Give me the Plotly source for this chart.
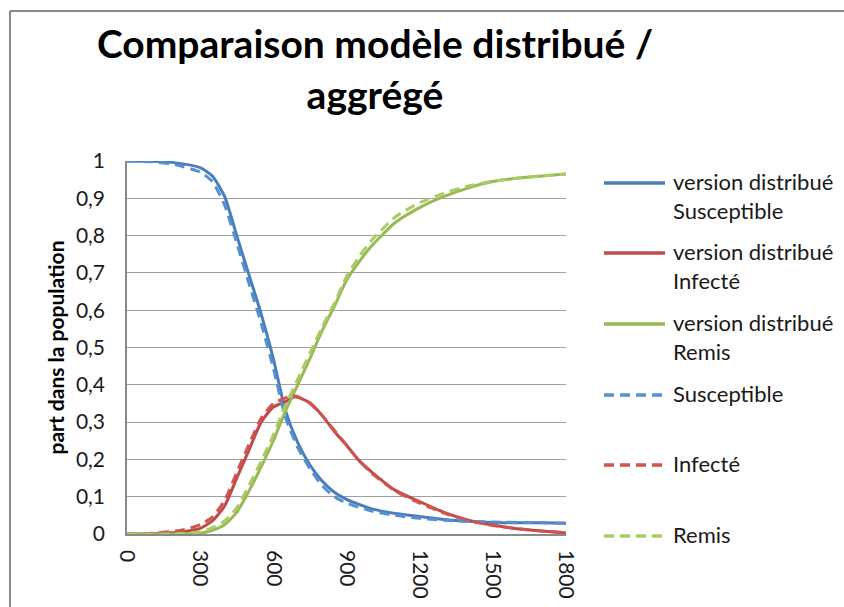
import plotly.graph_objects as go

# --- data ---------------------------------------------------------------
# Distributed model (solid lines)
x_s = [0, 100, 200, 300, 350, 400, 450, 500, 550, 600, 650, 700,
       750, 800, 850, 900, 1000, 1100, 1200, 1300, 1400, 1500, 1600, 1700, 1800]
s_dist = [1.0, 0.999, 0.995, 0.982, 0.96, 0.905, 0.80, 0.695, 0.59, 0.47, 0.33,
          0.245, 0.185, 0.142, 0.112, 0.093, 0.068, 0.055, 0.047, 0.039, 0.034,
          0.031, 0.03, 0.03, 0.029]

x_i = [0, 100, 200, 250, 300, 350, 400, 450, 500, 550, 600, 650, 690, 750, 800,
       850, 900, 950, 1000, 1100, 1200, 1300, 1400, 1500, 1600, 1700, 1800]
i_dist = [0.0, 0.001, 0.004, 0.008, 0.015, 0.035, 0.075, 0.15, 0.225, 0.30, 0.34,
          0.355, 0.368, 0.352, 0.318, 0.275, 0.238, 0.198, 0.168, 0.117, 0.087,
          0.058, 0.037, 0.024, 0.014, 0.008, 0.003]

x_r = [0, 100, 200, 300, 350, 400, 450, 500, 550, 600, 650, 700, 750, 800, 850,
       900, 950, 1000, 1100, 1200, 1300, 1400, 1500, 1600, 1700, 1800]
r_dist = [0.0, 0.0, 0.0, 0.002, 0.01, 0.025, 0.058, 0.115, 0.18, 0.25, 0.33, 0.40,
          0.47, 0.545, 0.61, 0.68, 0.728, 0.77, 0.835, 0.875, 0.905, 0.928, 0.945,
          0.954, 0.96, 0.965]

# Aggregated model (dashed lines)
s_agg = [1.0, 0.998, 0.99, 0.97, 0.945, 0.882, 0.78, 0.672, 0.565, 0.445, 0.312,
         0.232, 0.175, 0.13, 0.10, 0.083, 0.062, 0.05, 0.042, 0.037, 0.034,
         0.032, 0.031, 0.03, 0.029]
i_agg = [0.0, 0.002, 0.008, 0.014, 0.025, 0.045, 0.09, 0.165, 0.24, 0.31, 0.35,
         0.365, 0.37, 0.35, 0.318, 0.278, 0.238, 0.198, 0.165, 0.115, 0.083, 0.056,
         0.036, 0.023, 0.014, 0.008, 0.004]
r_agg = [0.0, 0.0, 0.001, 0.006, 0.017, 0.035, 0.07, 0.13, 0.195, 0.265, 0.345,
         0.415, 0.485, 0.555, 0.618, 0.69, 0.742, 0.785, 0.85, 0.888, 0.914, 0.933,
         0.946, 0.954, 0.96, 0.965]

x_ticks = [0, 300, 600, 900, 1200, 1500, 1800]
y_ticks = [0, 0.1, 0.2, 0.3, 0.4, 0.5, 0.6, 0.7, 0.8, 0.9, 1.0]

series = [
    ("version distribué<br>Susceptible", x_s, s_dist, "#4A7EBB", "solid"),
    ("version distribué<br>Infecté", x_i, i_dist, "#BE4B48", "solid"),
    ("version distribué<br>Remis", x_r, r_dist, "#98B954", "solid"),
    ("Susceptible", x_s, s_agg, "#5590D0", "10px,6px"),
    ("Infecté", x_i, i_agg, "#D25450", "10px,6px"),
    ("Remis", x_r, r_agg, "#A9CC64", "10px,6px"),
]

FONT = "Lato"

fig = go.Figure()
for name, xs, ys, color, dash in series:
    fig.add_trace(go.Scatter(
        x=xs, y=ys, mode="lines", name=name.replace("<br>", " "),
        line=dict(color=color, width=3, dash=dash, shape="spline", smoothing=0.6),
        showlegend=False,
    ))

# plot-area geometry in pixels
W, H = 844, 607
L, R, T, B = 127, 278, 161, 73
pw, ph = W - L - R, H - T - B


def px_x(p):
    return (p - L) / pw


def px_y(p):
    return (H - B - p) / ph


# legend drawn alongside the plot
shapes = []
annotations = []
legend_rows = [183, 253, 324, 395, 465, 536]
for (name, _, _, color, dash), yrow in zip(series, legend_rows):
    shapes.append(dict(
        type="line", xref="paper", yref="paper",
        x0=px_x(604), x1=px_x(665), y0=px_y(yrow), y1=px_y(yrow),
        line=dict(color=color, width=3.5, dash=dash),
    ))
    annotations.append(dict(
        text=name, xref="paper", yref="paper",
        x=px_x(671), y=px_y(yrow - 17), xanchor="left", yanchor="top",
        align="left", showarrow=False,
        font=dict(family=FONT, size=22, color="#1a1a1a"),
    ))

# chart frame (top and left edges)
frame = dict(color="#8a8a8a", width=2)
shapes.append(dict(type="line", xref="paper", yref="paper", layer="below",
                   x0=px_x(10), x1=px_x(W + 40), y0=px_y(11), y1=px_y(11), line=frame))
shapes.append(dict(type="line", xref="paper", yref="paper", layer="below",
                   x0=px_x(10), x1=px_x(10), y0=px_y(11), y1=px_y(H + 40), line=frame))

fig.update_layout(
    width=W, height=H,
    margin=dict(l=L, r=R, t=T, b=B),
    paper_bgcolor="white", plot_bgcolor="white",
    separators=", ",
    title=dict(
        text="Comparaison modèle distribué /<br>aggrégé",
        x=px_x(375), xanchor="center", xref="paper",
        y=1 - 58 / H, yanchor="top",
        font=dict(family=FONT, size=39, color="#000000", weight="bold"),
    ),
    xaxis=dict(
        range=[0, 1800], tickvals=x_ticks, tickangle=90,
        showgrid=False, zeroline=False, automargin=False,
        showline=True, linecolor="#8a8a8a", linewidth=1.5,
        ticks="", ticklabelstandoff=10,
        tickfont=dict(family=FONT, size=21, color="#1a1a1a"),
    ),
    yaxis=dict(
        range=[0, 1], tickvals=y_ticks, automargin=False,
        showgrid=True, gridcolor="#a0a0a0", gridwidth=1.2, zeroline=False,
        showline=True, linecolor="#8a8a8a", linewidth=1.5,
        ticks="", ticklabelstandoff=16,
        tickfont=dict(family=FONT, size=21, color="#1a1a1a"),
        title=dict(text="part dans la population", standoff=6,
                   font=dict(family=FONT, size=21, color="#000000", weight="bold")),
    ),
    shapes=shapes,
    annotations=annotations,
    showlegend=False,
)

fig.write_html("out.html")
